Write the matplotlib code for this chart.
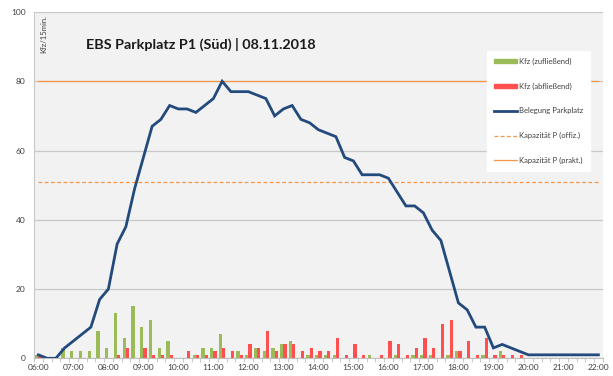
import matplotlib
matplotlib.use("Agg")
import matplotlib.pyplot as plt
import numpy as np
from matplotlib.patches import Patch
from matplotlib.lines import Line2D

plt.rcParams['font.family'] = ['Lato', 'DejaVu Sans']

# 15-minute slots from 06:00 to 22:00
zeiten = ["%02d:%02d" % (6 + i // 4, 15 * (i % 4)) for i in range(65)]
stunden_labels = ["%02d:00" % h for h in range(6, 23)]

kfz_zu = [1, 0, 0, 3, 2, 2, 2, 8, 3, 13, 6, 15, 9, 11, 3, 5,
          0, 0, 1, 3, 3, 7, 0, 2, 1, 3, 2, 3, 4, 5, 0, 1,
          1, 1, 1, 0, 0, 0, 1, 0, 0, 1, 0, 1, 1, 1, 0, 1,
          2, 0, 0, 1, 0, 2, 0, 0, 0, 0, 0, 0, 0, 0, 0, 0, 0]
kfz_ab = [1, 0, 0, 0, 0, 0, 0, 0, 0, 1, 3, 0, 3, 1, 1, 1,
          0, 2, 1, 1, 2, 3, 2, 1, 4, 3, 8, 2, 4, 4, 2, 3,
          2, 2, 6, 1, 4, 1, 0, 1, 5, 4, 1, 3, 6, 3, 10, 11,
          2, 5, 1, 6, 1, 1, 1, 1, 0, 0, 0, 0, 0, 0, 0, 0, 0]
belegung = [1, 0, 0, 3, 5, 7, 9, 17, 20, 33, 38, 49, 58, 67, 69, 73,
            72, 72, 71, 73, 75, 80, 77, 77, 77, 76, 75, 70, 72, 73, 69, 68,
            66, 65, 64, 58, 57, 53, 53, 53, 52, 48, 44, 44, 42, 37, 34, 25,
            16, 14, 9, 9, 3, 4, 3, 2, 1, 1, 1, 1, 1, 1, 1, 1, 1]
kap_offiz = 51
kap_prakt = 80

gruen = '#9bbb59'
rot = '#ff4f4f'
blau = '#234a7d'
orange = '#f79646'

fig = plt.figure(figsize=(6.13, 3.76), dpi=100)
ax = fig.add_axes([34 / 613, 1 - 358.3 / 376, (602.8 - 34) / 613, (358.3 - 12) / 376])
ax.set_facecolor('#f2f2f2')

x = np.arange(len(zeiten))
bw = 0.38
ax.bar(x - bw / 2, kfz_zu, width=bw, color=gruen, zorder=2)
ax.bar(x + bw / 2, kfz_ab, width=bw, color=rot, zorder=2)
ax.plot(x, [kap_offiz] * len(x), color=orange, lw=0.9, ls=(0, (3, 2)), zorder=3)
ax.plot(x, [kap_prakt] * len(x), color=orange, lw=0.9, zorder=3)
ax.plot(x, belegung, color=blau, lw=2.0, zorder=4, solid_joinstyle='miter')

ax.set_xlim(-0.5, len(x) - 0.5)
ax.set_ylim(0, 100)
ax.set_yticks(range(0, 101, 20))
ax.yaxis.grid(True, color='#c8c8c8', lw=0.9, zorder=0)
ax.set_axisbelow(True)
ax.tick_params(axis='y', length=0, labelsize=6, labelcolor='#404040', pad=6)

ax.set_xticks(x[::4])
ax.set_xticklabels(stunden_labels)
ax.set_xticks(np.arange(-0.5, len(x), 1), minor=True)
ax.tick_params(axis='x', which='major', length=0, labelsize=6, labelcolor='#404040', pad=4)
ax.tick_params(axis='x', which='minor', length=3, color='#bfbfbf', width=0.6)

for s in ['top', 'right']:
    ax.spines[s].set_visible(False)
ax.spines['left'].set_color('#c8c8c8')
ax.spines['bottom'].set_color('#bfbfbf')

fig.text(86 / 613, 1 - 44 / 376, "EBS Parkplatz P1 (Süd) | 08.11.2018",
         fontsize=10.4, fontweight='bold', color='#1a1a1a', va='center', ha='left')
ax.text(10 / 568.8, 0.99, "Kfz/15min.", rotation=90, fontsize=5.5, color='#404040',
        transform=ax.transAxes, va='top', ha='center')

handles = [
    Patch(color=gruen),
    Patch(color=rot),
    Line2D([], [], color=blau, lw=2.0),
    Line2D([], [], color=orange, lw=0.9, ls=(0, (3, 2))),
    Line2D([], [], color=orange, lw=0.9),
]
labels = ["Kfz (zufließend)", "Kfz (abfließend)", "Belegung Parkplatz",
          "Kapazität P (offiz.)", "Kapazität P (prakt.)"]
leg = ax.legend(handles, labels, loc='upper left', bbox_to_anchor=(487 / 613, 1 - 51 / 376),
                bbox_transform=fig.transFigure, fontsize=5.5, frameon=True, fancybox=False,
                edgecolor='white', facecolor='white', framealpha=1, labelspacing=2.3,
                handlelength=3.0, handleheight=0.45, handletextpad=0.3, borderpad=0.9,
                borderaxespad=0)
for t in leg.get_texts():
    t.set_color('#404040')

fig.savefig('out.png', dpi=100)
